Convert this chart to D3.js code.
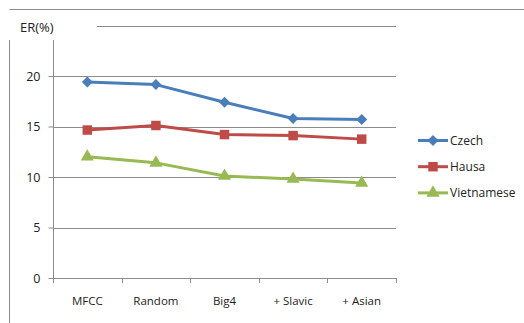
<!DOCTYPE html>
<html>
<head>
<meta charset="utf-8">
<script src="https://cdn.jsdelivr.net/npm/d3@7"></script>
<style>
  body { margin: 0; background: #fff; }
  text { font-family: "Open Sans", "DejaVu Sans", sans-serif; fill: #222; }
</style>
</head>
<body>
<div id="chart"></div>
<script>
const categories = ["MFCC", "Random", "Big4", "+ Slavic", "+ Asian"];
const czech = [19.4, 19.15, 17.4, 15.8, 15.7];
const hausa = [14.65, 15.1, 14.2, 14.1, 13.75];
const vietnamese = [12.0, 11.4, 10.1, 9.8, 9.4];
const yTicks = [0, 5, 10, 15, 20];

const series = [
  {name: "Czech", values: czech, color: "#4a7ebb", symbol: d3.symbolSquare, size: 60, rot: 45},
  {name: "Hausa", values: hausa, color: "#be4b48", symbol: d3.symbolSquare, size: 90, rot: 0},
  {name: "Vietnamese", values: vietnamese, color: "#98b954", symbol: d3.symbolTriangle, size: 75, rot: 0}
];

const W = 524, H = 323;
const svg = d3.select("#chart").append("svg").attr("width", W).attr("height", H);

// outer frame (partly visible)
svg.append("line").attr("x1", 9.5).attr("x2", W).attr("y1", 9.5).attr("y2", 9.5)
  .attr("stroke", "#8c8c8c").attr("stroke-width", 1);
svg.append("line").attr("x1", 9.5).attr("x2", 9.5).attr("y1", 40).attr("y2", H)
  .attr("stroke", "#8c8c8c").attr("stroke-width", 1);

const pLeft = 53, pRight = 396, pTop = 25.5, pBottom = 278;
const x = d3.scaleBand().domain(categories).range([pLeft, pRight]);
const y = d3.scaleLinear().domain([0, 25]).range([pBottom, pTop]);

// gridlines
svg.append("g").selectAll("line").data(yTicks.slice(1))
  .enter().append("line")
  .attr("x1", pLeft).attr("x2", pRight)
  .attr("y1", d => Math.round(y(d)) + 0.5).attr("y2", d => Math.round(y(d)) + 0.5)
  .attr("stroke", "#8c8c8c");
svg.append("line").attr("x1", 97).attr("x2", pRight)
  .attr("y1", Math.round(y(25)) + 0.5).attr("y2", Math.round(y(25)) + 0.5)
  .attr("stroke", "#8c8c8c");

// y axis
const yAxis = svg.append("g").attr("transform", `translate(${pLeft + 0.5},0)`)
  .call(d3.axisLeft(y).tickValues(yTicks).tickSize(5).tickPadding(8));
yAxis.select(".domain").remove();
yAxis.append("line").attr("x1", 0).attr("x2", 0).attr("y1", 40).attr("y2", pBottom)
  .attr("stroke", "#8c8c8c");
yAxis.selectAll(".tick line").attr("stroke", "#8c8c8c");
yAxis.selectAll(".tick text").style("font-size", "12.5px").attr("fill", "#222");

// x axis
const xAxis = svg.append("g").attr("transform", `translate(0,${Math.round(pBottom) + 0.5})`)
  .call(d3.axisBottom(x).tickSize(0).tickPadding(18));
xAxis.select(".domain").attr("stroke", "#8c8c8c").attr("d", `M${pLeft},0H${pRight}`);
xAxis.selectAll(".tick text").style("font-size", "11.5px").attr("fill", "#222");
svg.append("g").selectAll("line").data(categories.concat([null]))
  .enter().append("line")
  .attr("x1", (d, i) => Math.round(pLeft + i * x.bandwidth()) + 0.5)
  .attr("x2", (d, i) => Math.round(pLeft + i * x.bandwidth()) + 0.5)
  .attr("y1", pBottom).attr("y2", pBottom + 5)
  .attr("stroke", "#8c8c8c");

// axis title
svg.append("text").attr("x", 20).attr("y", 32).text("ER(%)").style("font-size", "13px");

// lines
const line = d3.line()
  .x((d, i) => x(categories[i]) + x.bandwidth() / 2)
  .y(d => y(d));

series.forEach(s => {
  svg.append("path").datum(s.values)
    .attr("d", line).attr("fill", "none")
    .attr("stroke", s.color).attr("stroke-width", 3)
    .attr("stroke-linejoin", "round");
  svg.append("g").selectAll("path").data(s.values)
    .enter().append("path")
    .attr("d", d3.symbol().type(s.symbol).size(s.size))
    .attr("transform", (d, i) => `translate(${x(categories[i]) + x.bandwidth() / 2},${y(d)}) rotate(${s.rot})`)
    .attr("fill", s.color);
});

// legend
const legend = svg.append("g");
series.forEach((s, i) => {
  const ly = 140.5 + i * 26.2;
  legend.append("line").attr("x1", 418).attr("x2", 448).attr("y1", ly).attr("y2", ly)
    .attr("stroke", s.color).attr("stroke-width", 3);
  legend.append("path").attr("d", d3.symbol().type(s.symbol).size(s.size))
    .attr("transform", `translate(433,${ly}) rotate(${s.rot})`).attr("fill", s.color);
  legend.append("text").attr("x", 450).attr("y", ly).attr("dy", "0.35em")
    .text(s.name).style("font-size", "12px");
});
</script>
</body>
</html>
